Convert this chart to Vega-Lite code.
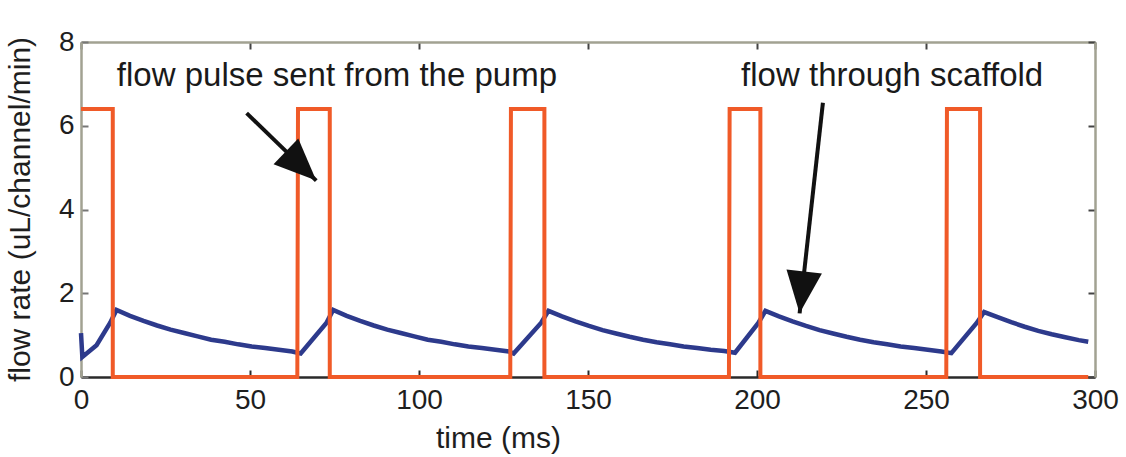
{
  "$schema": "https://vega.github.io/schema/vega-lite/v6.json",
  "width": 1014,
  "height": 335,
  "autosize": "none",
  "padding": {"left": 81, "top": 42, "right": 31, "bottom": 80},
  "background": "white",
  "config": {
    "view": {"stroke": null},
    "font": "Liberation Sans",
    "axis": {"grid": false, "labelFlush": false, "labelOverlap": false, "labelFont": "Liberation Sans", "titleFont": "Liberation Sans", "labelColor": "#1e1e1e", "titleColor": "#1e1e1e", "titleFontWeight": "normal", "domainWidth": 2.5, "tickWidth": 2}
  },
  "datasets": {
    "pump": [
      {"t": 0, "v": 6.4}, {"t": 9.4, "v": 6.4}, {"t": 9.4, "v": 0},
      {"t": 64.0, "v": 0}, {"t": 64.2, "v": 6.4}, {"t": 73.6, "v": 6.4}, {"t": 73.6, "v": 0},
      {"t": 127.0, "v": 0}, {"t": 127.2, "v": 6.4}, {"t": 137.1, "v": 6.4}, {"t": 137.1, "v": 0},
      {"t": 191.7, "v": 0}, {"t": 191.9, "v": 6.4}, {"t": 201.0, "v": 6.4}, {"t": 201.0, "v": 0},
      {"t": 256.0, "v": 0}, {"t": 256.2, "v": 6.4}, {"t": 266.0, "v": 6.4}, {"t": 266.0, "v": 0},
      {"t": 298, "v": 0}
    ],
    "scaffold": [
      {"t": 0, "v": 1.05}, {"t": 0.4, "v": 0.48}, {"t": 4.6, "v": 0.76}, {"t": 8.6, "v": 1.29}, {"t": 10.5, "v": 1.6},
      {"t": 14.5, "v": 1.46}, {"t": 18.5, "v": 1.34}, {"t": 22.5, "v": 1.23}, {"t": 26.5, "v": 1.13}, {"t": 30.5, "v": 1.05}, {"t": 34.5, "v": 0.97}, {"t": 38.5, "v": 0.89}, {"t": 42.5, "v": 0.84}, {"t": 46.5, "v": 0.78}, {"t": 50.5, "v": 0.73}, {"t": 54.5, "v": 0.69}, {"t": 58.5, "v": 0.65}, {"t": 62.5, "v": 0.61},
      {"t": 65.0, "v": 0.56}, {"t": 72.6, "v": 1.29}, {"t": 74.6, "v": 1.6},
      {"t": 78.6, "v": 1.46}, {"t": 82.6, "v": 1.34}, {"t": 86.6, "v": 1.23}, {"t": 90.6, "v": 1.13}, {"t": 94.6, "v": 1.05}, {"t": 98.6, "v": 0.97}, {"t": 102.6, "v": 0.89}, {"t": 106.6, "v": 0.84}, {"t": 110.6, "v": 0.78}, {"t": 114.6, "v": 0.73}, {"t": 118.6, "v": 0.69}, {"t": 122.6, "v": 0.65}, {"t": 126.6, "v": 0.61},
      {"t": 128.0, "v": 0.56}, {"t": 136.1, "v": 1.29}, {"t": 138.3, "v": 1.58},
      {"t": 142.3, "v": 1.45}, {"t": 146.3, "v": 1.33}, {"t": 150.3, "v": 1.22}, {"t": 154.3, "v": 1.12}, {"t": 158.3, "v": 1.04}, {"t": 162.3, "v": 0.96}, {"t": 166.3, "v": 0.89}, {"t": 170.3, "v": 0.83}, {"t": 174.3, "v": 0.78}, {"t": 178.3, "v": 0.73}, {"t": 182.3, "v": 0.69}, {"t": 186.3, "v": 0.65}, {"t": 190.3, "v": 0.62},
      {"t": 193.5, "v": 0.58}, {"t": 200.4, "v": 1.29}, {"t": 202.5, "v": 1.58},
      {"t": 206.5, "v": 1.45}, {"t": 210.5, "v": 1.33}, {"t": 214.5, "v": 1.22}, {"t": 218.5, "v": 1.12}, {"t": 222.5, "v": 1.04}, {"t": 226.5, "v": 0.96}, {"t": 230.5, "v": 0.89}, {"t": 234.5, "v": 0.83}, {"t": 238.5, "v": 0.78}, {"t": 242.5, "v": 0.73}, {"t": 246.5, "v": 0.69}, {"t": 250.5, "v": 0.65}, {"t": 254.5, "v": 0.61},
      {"t": 257.5, "v": 0.57}, {"t": 265.0, "v": 1.29}, {"t": 267.2, "v": 1.55},
      {"t": 271.2, "v": 1.43}, {"t": 275.2, "v": 1.31}, {"t": 279.2, "v": 1.2}, {"t": 283.2, "v": 1.1}, {"t": 287.2, "v": 1.02}, {"t": 291.2, "v": 0.95}, {"t": 295.2, "v": 0.88}, {"t": 298, "v": 0.84}
    ],
    "arrows": [
      {"id": "pump", "t": 49, "v": 6.3, "t2": 69.6, "v2": 4.69},
      {"id": "scaffold", "t": 219.5, "v": 6.55, "t2": 212.6, "v2": 1.52}
    ],
    "labels": [
      {"t": 10.6, "v": 7.2, "label": "flow pulse sent from the pump"},
      {"t": 195.3, "v": 7.2, "label": "flow through scaffold"}
    ]
  },
  "resolve": {"axis": {"x": "independent", "y": "independent"}},
  "layer": [
    {
      "data": {"name": "scaffold"},
      "mark": {"type": "line", "color": "#2d3a8c", "strokeWidth": 4.5},
      "encoding": {
        "x": {"field": "t", "type": "quantitative", "scale": {"domain": [0, 300], "nice": false, "zero": false},
              "axis": {"orient": "bottom", "values": [0, 50, 100, 150, 200, 250, 300], "title": "time (ms)", "titleFontSize": 30, "titleX": 417, "titleY": 61, "titleBaseline": "middle", "labelFontSize": 28, "tickSize": -7, "labelPadding": 16, "domainColor": "#2a2a2a", "tickColor": "#2a2a2a"}},
        "y": {"field": "v", "type": "quantitative", "scale": {"domain": [0, 8], "nice": false},
              "axis": {"orient": "left", "values": [0, 2, 4, 6, 8], "title": "flow rate (uL/channel/min)", "titleFontSize": 30, "titleX": -61, "titleY": 167, "titleAngle": -90, "titleBaseline": "middle", "titleAlign": "center", "labelFontSize": 28, "tickSize": -7, "labelPadding": 14, "domainColor": "#a2a292", "tickColor": "#777"}},
        "order": {"value": null}
      }
    },
    {
      "data": {"name": "pump"},
      "mark": {"type": "line", "color": "#f05a28", "strokeWidth": 4},
      "encoding": {
        "x": {"field": "t", "type": "quantitative", "axis": {"orient": "top", "values": [0, 50, 100, 150, 200, 250, 300], "labels": false, "title": null, "tickSize": -7, "domainColor": "#a2a292", "tickColor": "#444"}},
        "y": {"field": "v", "type": "quantitative", "axis": {"orient": "right", "values": [0, 2, 4, 6, 8], "labels": false, "title": null, "tickSize": -7, "domainColor": "#a2a292", "tickColor": "#444"}},
        "order": {"value": null}
      }
    },
    {
      "data": {"name": "arrows"},
      "mark": {"type": "rule", "color": "#111", "strokeWidth": 4},
      "encoding": {
        "x": {"field": "t", "type": "quantitative", "axis": null},
        "y": {"field": "v", "type": "quantitative", "axis": null},
        "x2": {"field": "t2"},
        "y2": {"field": "v2"}
      }
    },
    {
      "data": {"name": "arrows"},
      "transform": [{"filter": "datum.id == 'pump'"}],
      "mark": {"type": "point", "shape": "M0,0L0.55,1.3L-0.55,1.3Z", "filled": true, "color": "#111", "opacity": 1, "size": 4200, "angle": 133.9},
      "encoding": {
        "x": {"field": "t2", "type": "quantitative", "axis": null},
        "y": {"field": "v2", "type": "quantitative", "axis": null}
      }
    },
    {
      "data": {"name": "arrows"},
      "transform": [{"filter": "datum.id == 'scaffold'"}],
      "mark": {"type": "point", "shape": "M0,0L0.55,1.3L-0.55,1.3Z", "filled": true, "color": "#111", "opacity": 1, "size": 4200, "angle": 186.3},
      "encoding": {
        "x": {"field": "t2", "type": "quantitative", "axis": null},
        "y": {"field": "v2", "type": "quantitative", "axis": null}
      }
    },
    {
      "data": {"name": "labels"},
      "mark": {"type": "text", "align": "left", "baseline": "middle", "fontSize": 33, "color": "#1a1a1a", "font": "Liberation Sans"},
      "encoding": {
        "x": {"field": "t", "type": "quantitative", "axis": null},
        "y": {"field": "v", "type": "quantitative", "axis": null},
        "text": {"field": "label"}
      }
    }
  ]
}
